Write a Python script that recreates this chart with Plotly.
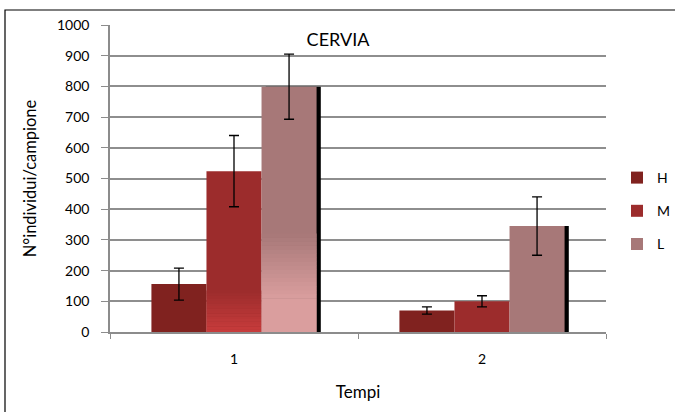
import plotly.graph_objects as go

categories = [1, 2]
tick_labels = ["1", "2"]
series_names = ["H", "M", "L"]
H_values = [156, 70]
M_values = [524, 100]
L_values = [799, 345]
H_err = [52, 12]
M_err = [116, 18]
L_err = [106, 95]
y_ticks = [0, 100, 200, 300, 400, 500, 600, 700, 800, 900, 1000]

colors = {"H": "#80221F", "M": "#9C2C2C", "L": "#A77878"}
FONT = "Lato, 'Open Sans', sans-serif"
W = 0.222
offsets = {"H": -0.333, "M": -0.111, "L": 0.111}

fig = go.Figure()

# shadow behind L bars
fig.add_trace(go.Bar(x=categories, y=L_values, width=W, offset=offsets["L"] + 0.017,
                     marker=dict(color="#000000", line=dict(width=0)),
                     showlegend=False, hoverinfo="skip"))

vals = {"H": H_values, "M": M_values, "L": L_values}
errs = {"H": H_err, "M": M_err, "L": L_err}
for name in series_names:
    fig.add_trace(go.Bar(
        x=categories, y=vals[name], name=name, width=W, offset=offsets[name],
        marker=dict(color=colors[name], line=dict(width=0)),
        error_y=dict(type="data", array=errs[name], color="#000000", thickness=1.3, width=5),
        legendgroup=name,
    ))

# gradient decoration on first-category bars (lower part lighter)
def hex2rgb(h):
    h = h.lstrip("#")
    return tuple(int(h[i:i + 2], 16) for i in (0, 2, 4))

def mix(c1, c2, t):
    a, b = hex2rgb(c1), hex2rgb(c2)
    return "rgb(%d,%d,%d)" % tuple(round(a[i] + (b[i] - a[i]) * t) for i in range(3))

def gradient(name, light, solid_to, fade_to, steps=16):
    bases, heights, cols = [], [], []
    if solid_to > 0:
        bases.append(0); heights.append(solid_to); cols.append(light)
    step = (fade_to - solid_to) / steps
    for i in range(steps):
        bases.append(solid_to + i * step)
        heights.append(step + 0.5)
        cols.append(mix(light, colors[name], (i + 0.5) / steps))
    fig.add_trace(go.Bar(x=[categories[0]] * len(bases), y=heights, base=bases,
                         width=W, offset=offsets[name],
                         marker=dict(color=cols, line=dict(width=0)),
                         showlegend=False, hoverinfo="skip"))

gradient("M", "#C83C3C", 0, 135)
gradient("L", "#DA9E9E", 110, 320)

fig.update_layout(
    width=675, height=412,
    barmode="overlay",
    paper_bgcolor="white", plot_bgcolor="white",
    margin=dict(l=110, r=69, t=25, b=80, autoexpand=False),
    font=dict(family=FONT, size=14, color="#000000"),
    title=dict(text="CERVIA", x=338 / 675, xanchor="center",
               y=1 - 40 / 412, yanchor="middle", font=dict(size=18, family=FONT)),
    showlegend=True,
    legend=dict(xref="container", yref="container", x=617 / 675, y=1 - 211 / 412,
                xanchor="left", yanchor="middle",
                font=dict(size=14), tracegroupgap=12, bgcolor="rgba(0,0,0,0)"),
    xaxis=dict(range=[0.5, 2.5], tickmode="array", tickvals=categories, ticktext=tick_labels,
               ticks="", showgrid=False, showline=True, linecolor="#8C8C8C", linewidth=1.6,
               zeroline=False, automargin=False, title=dict(text="Tempi", standoff=21),
               minor=dict(tickmode="array", tickvals=[0.5, 1.5, 2.5], ticks="outside",
                          ticklen=5, tickcolor="#8C8C8C", showgrid=False),
               ticklabelstandoff=13),
    yaxis=dict(range=[0, 1000], tickmode="array", tickvals=y_ticks,
               showgrid=True, gridcolor="#8E8E8E", gridwidth=1.6,
               showline=True, linecolor="#8C8C8C", linewidth=1.6,
               ticks="outside", ticklen=7, tickcolor="#8C8C8C",
               zeroline=False, automargin=False, ticklabelstandoff=9,
               title=dict(text="N°individui/campione", standoff=16,
                          font=dict(family=FONT, size=16.5, color="#000000"))),
    shapes=[dict(type="rect", xref="paper", yref="paper",
                 x0=(5 - 110) / 496, x1=1.3, y0=-0.5, y1=(332 - 10) / 307,
                 line=dict(color="#000000", width=1.2), fillcolor="rgba(0,0,0,0)", layer="above")],
)

fig.write_html("out.html", config={"displayModeBar": False},
               post_script="document.body.style.margin='0';")
